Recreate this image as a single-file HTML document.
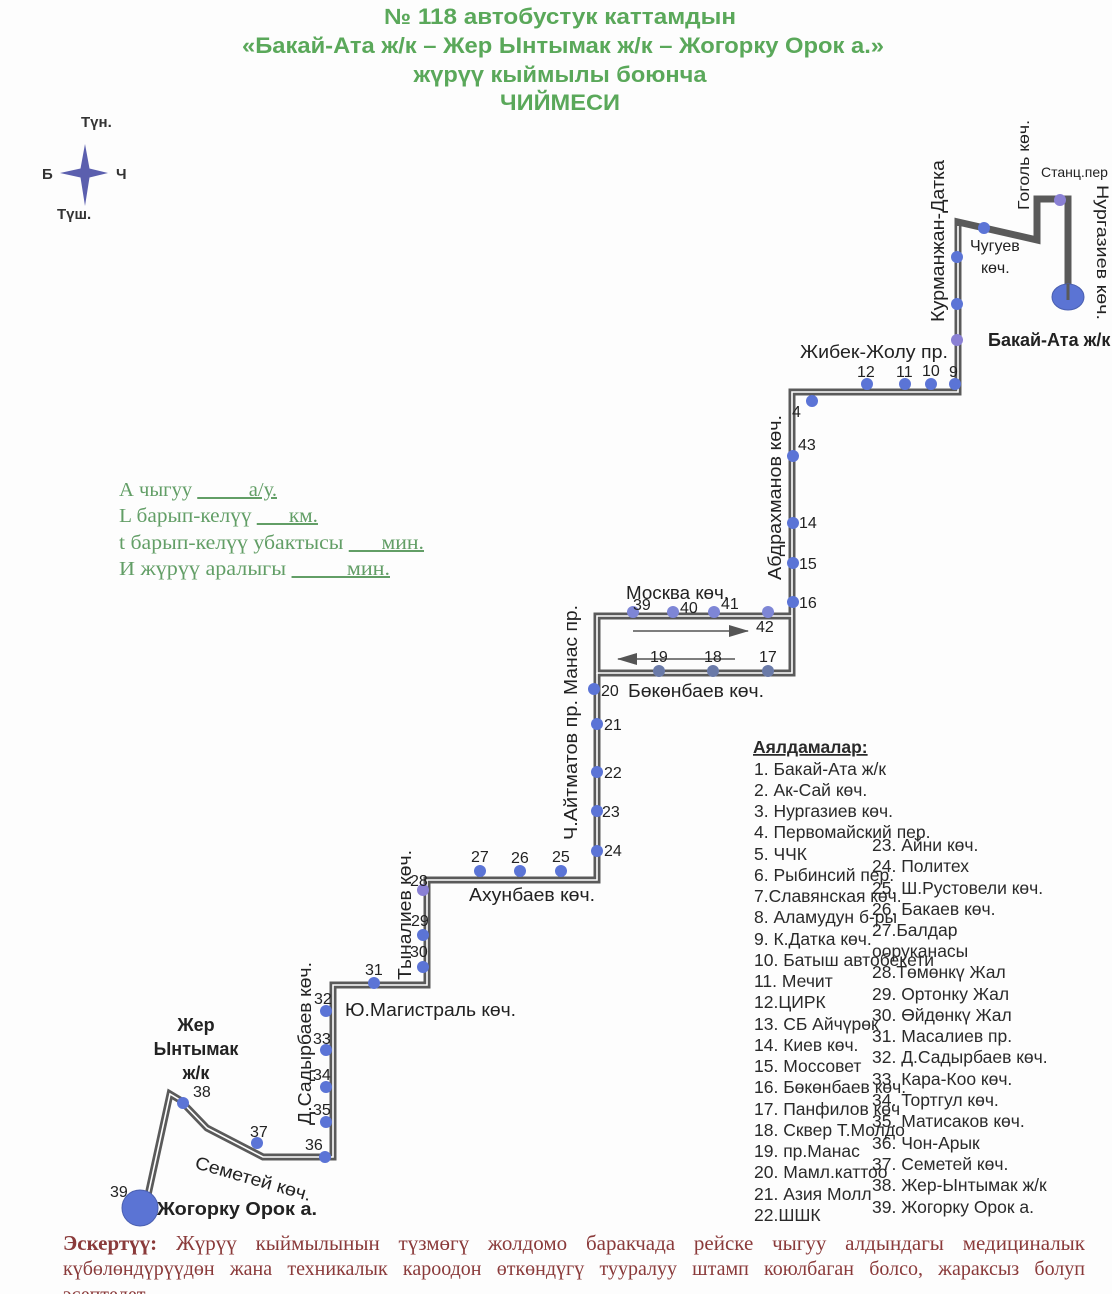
<!DOCTYPE html>
<html><head><meta charset="utf-8">
<style>
html,body{margin:0;padding:0;background:#fff;}
#wrap{position:relative;width:1112px;height:1294px;overflow:hidden;background:#fdfdfd;}
svg{position:absolute;left:0;top:0;}
.note{position:absolute;left:63px;width:1022px;font-family:"Liberation Serif",serif;font-size:20px;line-height:24px;color:#8a3a3a;text-align:justify;text-align-last:justify;white-space:nowrap;}
</style></head><body><div id="wrap">
<svg width="1112" height="1294" viewBox="0 0 1112 1294" xmlns="http://www.w3.org/2000/svg">
<defs>
<marker id="ah2" markerWidth="20" markerHeight="12" refX="19" refY="6" orient="auto" markerUnits="userSpaceOnUse"><path d="M0,0 L20,6 L0,12 z" fill="#555"/></marker>
</defs>
<!-- Title -->
<g font-family="Liberation Sans, sans-serif" font-weight="bold" fill="#5aa85a" text-anchor="middle">
<text x="560" y="24" font-size="22" textLength="352" lengthAdjust="spacingAndGlyphs">№ 118  автобустук каттамдын</text>
<text x="563" y="53" font-size="22" textLength="642" lengthAdjust="spacingAndGlyphs">«Бакай-Ата ж/к – Жер Ынтымак ж/к – Жогорку Орок а.»</text>
<text x="560" y="82" font-size="22" textLength="293" lengthAdjust="spacingAndGlyphs">жүрүү кыймылы боюнча</text>
<text x="560" y="110" font-size="22" textLength="120" lengthAdjust="spacingAndGlyphs">ЧИЙМЕСИ</text>
</g>
<!-- Compass -->
<path d="M85,144 L89.5,168.5 L108,173 L89.5,177.5 L85,206 L80.5,177.5 L60,173 L80.5,168.5 Z" fill="#5b5fae"/>
<g font-family="Liberation Sans, sans-serif" font-weight="bold" font-size="15" fill="#333">
<text x="81" y="127">Түн.</text>
<text x="42" y="179">Б</text>
<text x="116" y="179">Ч</text>
<text x="57" y="219">Түш.</text>
</g>
<!-- Legend -->
<g font-family="Liberation Serif, serif" font-size="20" fill="#629e66">
<text x="119" y="496" textLength="158" lengthAdjust="spacingAndGlyphs">А чыгуу <tspan text-decoration="underline">_____а/у.</tspan></text>
<text x="119" y="522" textLength="199" lengthAdjust="spacingAndGlyphs">L барып-келүү <tspan text-decoration="underline">___км.</tspan></text>
<text x="119" y="549" textLength="305" lengthAdjust="spacingAndGlyphs">t барып-келүү убактысы <tspan text-decoration="underline">___мин.</tspan></text>
<text x="119" y="575" textLength="271" lengthAdjust="spacingAndGlyphs">И жүрүү аралыгы  <tspan text-decoration="underline">_____мин.</tspan></text>
</g>

<!-- Route -->
<g fill="none" stroke-linejoin="miter">
<path d="M1068,294 L1068,199 L1037,199 L1037,240 L958,222 L958,392 L792,392 L792,673 L597,673 L597,616 L792,616" stroke="#5a5a5a" stroke-width="7"/>
<path d="M597,673 L597,880 L427,880 L427,985 L333,985 L333,1157 L263,1157 L207,1128 L180,1100 L170,1094 L148,1195" stroke="#5a5a5a" stroke-width="7"/>
<path d="M958,226 L958,392 L792,392 L792,673 L597,673 L597,616 L792,616" stroke="#fff" stroke-width="1.6"/>
<path d="M597,673 L597,880 L427,880 L427,985 L333,985 L333,1157 L263,1157 L207,1128 L180,1100 L170,1094 L148,1195" stroke="#fff" stroke-width="1.6"/>
<path d="M1063,205 L1063,292" stroke="#fff" stroke-width="1.5"/>
</g>
<!-- arrows -->
<line x1="633" y1="631" x2="748" y2="631" stroke="#555" stroke-width="1.5" marker-end="url(#ah2)"/>
<line x1="735" y1="659" x2="618" y2="659" stroke="#555" stroke-width="1.5" marker-end="url(#ah2)"/>
<!-- terminals -->
<ellipse cx="1068" cy="297" rx="16" ry="13" fill="#5b74d4" stroke="#4a5fb0" stroke-width="1"/>
<line x1="1068" y1="284" x2="1068" y2="300" stroke="#5a5a5a" stroke-width="3"/>
<circle cx="140" cy="1208" r="18" fill="#5b74d4" stroke="#4a5fb0" stroke-width="1"/>
<!-- stops -->
<g fill="#5b74d6">
<circle cx="1060" cy="200" r="6" fill="#8a80d4"/>
<circle cx="984" cy="228" r="6"/>
<circle cx="957" cy="257" r="6"/>
<circle cx="957" cy="304" r="6"/>
<circle cx="957" cy="340" r="6" fill="#8a80d4"/>
<circle cx="955" cy="384" r="6"/>
<circle cx="931" cy="384" r="6"/>
<circle cx="905" cy="384" r="6"/>
<circle cx="867" cy="384" r="6"/>
<circle cx="812" cy="401" r="6"/>
<circle cx="793" cy="456" r="6"/>
<circle cx="793" cy="523" r="6"/>
<circle cx="793" cy="563" r="6"/>
<circle cx="793" cy="602" r="6"/>
<circle cx="633" cy="612" r="6" fill="#7e86d6"/>
<circle cx="673" cy="612" r="6" fill="#7e86d6"/>
<circle cx="714" cy="612" r="6" fill="#7e86d6"/>
<circle cx="768" cy="612" r="6" fill="#7e86d6"/>
<circle cx="768" cy="671" r="6" fill="#6a7aa8"/>
<circle cx="713" cy="671" r="6" fill="#6a7aa8"/>
<circle cx="659" cy="671" r="6" fill="#6a7aa8"/>
<circle cx="594" cy="689" r="6"/>
<circle cx="597" cy="724" r="6"/>
<circle cx="597" cy="772" r="6"/>
<circle cx="597" cy="811" r="6"/>
<circle cx="597" cy="851" r="6"/>
<circle cx="561" cy="871" r="6"/>
<circle cx="520" cy="871" r="6"/>
<circle cx="480" cy="871" r="6"/>
<circle cx="423" cy="890" r="6" fill="#8a80d4"/>
<circle cx="423" cy="935" r="6"/>
<circle cx="423" cy="967" r="6"/>
<circle cx="374" cy="983" r="6"/>
<circle cx="326" cy="1011" r="6"/>
<circle cx="326" cy="1050" r="6"/>
<circle cx="326" cy="1087" r="6"/>
<circle cx="326" cy="1122" r="6"/>
<circle cx="325" cy="1157" r="6"/>
<circle cx="257" cy="1143" r="6"/>
<circle cx="183" cy="1103" r="6"/>
</g>
<!-- stop numbers -->
<g font-family="Liberation Sans, sans-serif" font-size="16" fill="#222">
<text x="949" y="377">9</text>
<text x="922" y="376">10</text>
<text x="896" y="377">11</text>
<text x="857" y="377">12</text>
<text x="792" y="417">4</text>
<text x="798" y="450">43</text>
<text x="799" y="528">14</text>
<text x="799" y="569">15</text>
<text x="799" y="608">16</text>
<text x="633" y="610">39</text>
<text x="680" y="613">40</text>
<text x="721" y="609">41</text>
<text x="756" y="632">42</text>
<text x="759" y="662">17</text>
<text x="704" y="662">18</text>
<text x="650" y="662">19</text>
<text x="601" y="696">20</text>
<text x="604" y="730">21</text>
<text x="604" y="778">22</text>
<text x="602" y="817">23</text>
<text x="604" y="856">24</text>
<text x="552" y="862">25</text>
<text x="511" y="863">26</text>
<text x="471" y="862">27</text>
<text x="410" y="886">28</text>
<text x="411" y="926">29</text>
<text x="410" y="957">30</text>
<text x="365" y="975">31</text>
<text x="314" y="1004">32</text>
<text x="313" y="1044">33</text>
<text x="313" y="1080">34</text>
<text x="313" y="1115">35</text>
<text x="305" y="1150">36</text>
<text x="250" y="1137">37</text>
<text x="193" y="1097">38</text>
<text x="110" y="1197">39</text>
</g>
<!-- street labels -->
<g font-family="Liberation Sans, sans-serif" font-size="18" fill="#222">
<text x="800" y="358" textLength="148" lengthAdjust="spacingAndGlyphs">Жибек-Жолу пр.</text>
<text transform="translate(944,322) rotate(-90)" textLength="162" lengthAdjust="spacingAndGlyphs">Курманжан-Датка</text>
<text x="970" y="251" font-size="16">Чугуев</text>
<text x="981" y="273" font-size="16">көч.</text>
<text transform="translate(1029,210) rotate(-90)" font-size="16" textLength="90" lengthAdjust="spacingAndGlyphs">Гоголь көч.</text>
<text x="1041" y="177" font-size="14">Станц.пер</text>
<text transform="translate(1097,185) rotate(90)" font-size="17" textLength="135" lengthAdjust="spacingAndGlyphs">Нургазиев көч.</text>
<text x="988" y="346" font-weight="bold">Бакай-Ата ж/к</text>
<text transform="translate(781,580) rotate(-90)" textLength="165" lengthAdjust="spacingAndGlyphs">Абдрахманов көч.</text>
<text x="626" y="599" textLength="103" lengthAdjust="spacingAndGlyphs">Москва көч.</text>
<text x="628" y="697" textLength="136" lengthAdjust="spacingAndGlyphs">Бөкөнбаев көч.</text>
<text transform="translate(577,695) rotate(-90)" textLength="90" lengthAdjust="spacingAndGlyphs">Манас пр.</text>
<text transform="translate(577,840) rotate(-90)" textLength="140" lengthAdjust="spacingAndGlyphs">Ч.Айтматов пр.</text>
<text x="469" y="901" textLength="126" lengthAdjust="spacingAndGlyphs">Ахунбаев көч.</text>
<text transform="translate(411,980) rotate(-90)" textLength="130" lengthAdjust="spacingAndGlyphs">Тыналиев көч.</text>
<text x="345" y="1016" textLength="171" lengthAdjust="spacingAndGlyphs">Ю.Магистраль көч.</text>
<text transform="translate(311,1125) rotate(-90)" textLength="163" lengthAdjust="spacingAndGlyphs">Д.Садырбаев көч.</text>
<text transform="translate(194,1168) rotate(16)" textLength="120" lengthAdjust="spacingAndGlyphs">Семетей көч.</text>
</g>
<g font-family="Liberation Sans, sans-serif" font-size="18" font-weight="bold" fill="#222" text-anchor="middle">
<text x="196" y="1031">Жер</text>
<text x="196" y="1055">Ынтымак</text>
<text x="196" y="1079">ж/к</text>
</g>
<text x="157" y="1215" font-family="Liberation Sans, sans-serif" font-size="18" font-weight="bold" fill="#222" textLength="160" lengthAdjust="spacingAndGlyphs">Жогорку Орок а.</text>
<!-- stop list -->
<g font-family="Liberation Sans, sans-serif" font-size="17.5" fill="#2a2a2a">
<text x="753" y="753" font-weight="bold" text-decoration="underline">Аялдамалар:</text>
<text x="754" y="775">1. Бакай-Ата ж/к</text>
<text x="754" y="796">2.  Ак-Сай көч.</text>
<text x="754" y="817">3. Нургазиев көч.</text>
<text x="754" y="838">4. Первомайский пер.</text>
<text x="754" y="860">5. ЧЧК</text>
<text x="754" y="881">6. Рыбинсий пер.</text>
<text x="754" y="902">7.Славянская көч.</text>
<text x="754" y="923">8. Аламудун б-ры</text>
<text x="754" y="945">9. К.Датка көч.</text>
<text x="754" y="966">10. Батыш автобекети</text>
<text x="754" y="987">11. Мечит</text>
<text x="754" y="1008">12.ЦИРК</text>
<text x="754" y="1030">13. СБ Айчүрөк</text>
<text x="754" y="1051">14. Киев көч.</text>
<text x="754" y="1072">15. Моссовет</text>
<text x="754" y="1093">16. Бөкөнбаев көч.</text>
<text x="754" y="1115">17. Панфилов көч</text>
<text x="754" y="1136">18. Сквер Т.Молдо</text>
<text x="754" y="1157">19. пр.Манас</text>
<text x="754" y="1178">20. Мамл.каттоо</text>
<text x="754" y="1200">21. Азия Молл</text>
<text x="754" y="1221">22.ШШК</text>
<text x="872" y="851">23. Айни көч.</text>
<text x="872" y="872">24. Политех</text>
<text x="872" y="894">25. Ш.Рустовели көч.</text>
<text x="872" y="915">26. Бакаев көч.</text>
<text x="872" y="936">27.Балдар</text>
<text x="872" y="957">ооруканасы</text>
<text x="872" y="978">28.Төмөнкү Жал</text>
<text x="872" y="1000">29. Ортонку Жал</text>
<text x="872" y="1021">30. Өйдөнкү Жал</text>
<text x="872" y="1042">31. Масалиев пр.</text>
<text x="872" y="1063">32. Д.Садырбаев көч.</text>
<text x="872" y="1085">33. Кара-Коо көч.</text>
<text x="872" y="1106">34. Тортгул көч.</text>
<text x="872" y="1127">35. Матисаков көч.</text>
<text x="872" y="1149">36.  Чон-Арык</text>
<text x="872" y="1170">37. Семетей көч.</text>
<text x="872" y="1191">38. Жер-Ынтымак ж/к</text>
<text x="872" y="1213">39. Жогорку Орок а.</text>
</g>
</svg>
<div class="note" style="top:1231px;font-size:21px;"><b>Эскертүү:</b> Жүрүү кыймылынын түзмөгү жолдомо баракчада рейске чыгуу алдындагы медициналык</div>
<div class="note" style="top:1257px;">күбөлөндүрүүдөн жана техникалык кароодон өткөндүгү тууралуу штамп коюлбаган болсо, жараксыз болуп</div>
<div class="note" style="top:1283px;text-align-last:left;">эсептелет</div>
</div></body></html>
